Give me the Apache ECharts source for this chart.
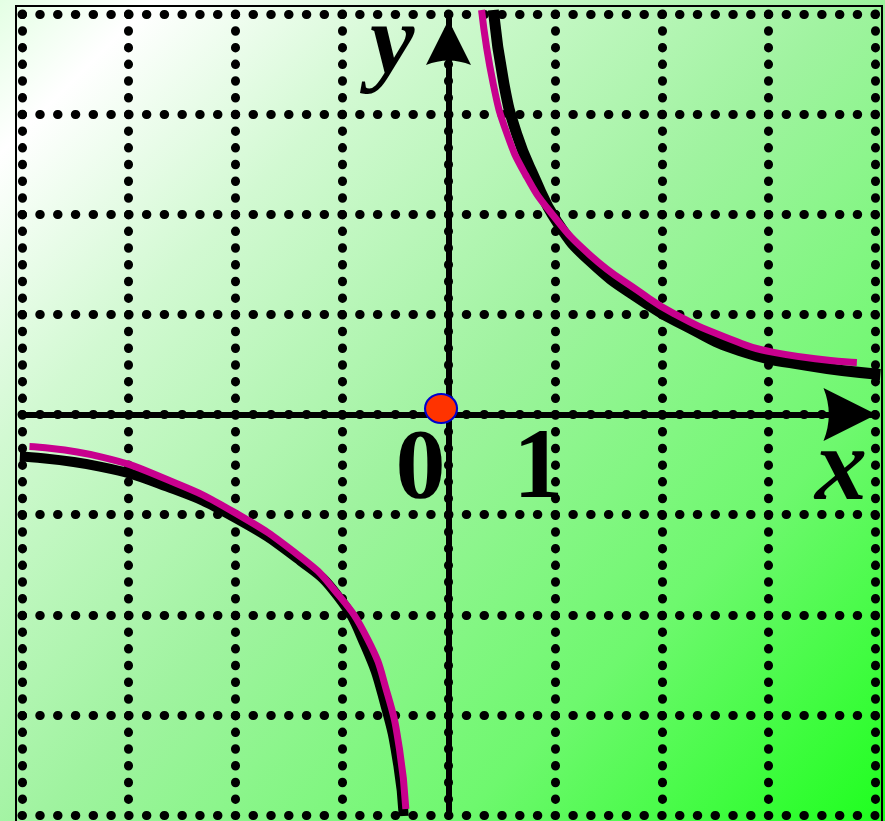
<!DOCTYPE html>
<html><head><meta charset="utf-8">
<script src="https://cdn.jsdelivr.net/npm/echarts@6/dist/echarts.min.js"></script>
<style>
html,body{margin:0;padding:0;}
#c{width:885px;height:821px;background:linear-gradient(135deg,#E4FFE4 0%,#FFFFFF 9%,#D2F9D2 26%,#A0F3A0 50%,#6EF86E 75%,#1EFF1E 100%);}
</style></head><body><div id="c"></div>
<script>
// axis ranges
const xRange = [-4, 4];
const yRange = [-4, 4];
// tick labels shown on the x axis (value -> text)
const xTickValues = [0, 1];
const xTickTexts = ['0', '1'];
const axisNames = ['x', 'y'];

// upper branch (first quadrant)
const upperMagenta = [[0.31,4.04],[0.42,3.30],[0.55,2.80],[0.72,2.40],[0.95,2.03],[1.33,1.59],[1.80,1.22],[2.11,1.01],[2.58,0.78],[3.05,0.62],[3.83,0.52]];
const upperBlack = [[0.42,4.04],[0.52,3.30],[0.64,2.80],[0.80,2.38],[1.02,1.92],[1.33,1.53],[1.80,1.15],[2.27,0.86],[2.73,0.64],[3.36,0.49],[4.05,0.40]];
// lower branch (third quadrant)
const lowerMagenta = [[-3.93,-0.32],[-3.27,-0.42],[-2.64,-0.65],[-2.02,-0.97],[-1.39,-1.42],[-1.08,-1.74],[-0.76,-2.24],[-0.57,-2.80],[-0.46,-3.34],[-0.40,-3.94]];
const lowerBlack = [[-4.02,-0.42],[-3.27,-0.52],[-2.64,-0.72],[-2.02,-1.02],[-1.39,-1.46],[-1.04,-1.81],[-0.78,-2.31],[-0.59,-2.91],[-0.47,-3.51],[-0.42,-4.01]];
// origin marker
const originPoint = [[-0.07, 0.06]];

const labelOffsets = [[-28, 57], [-17, 57]];
const arrowPath = 'path://M50,0 L100,100 Q50,80 0,100 Z';
const chart = echarts.init(document.getElementById('c'), null, {renderer:'canvas'});
chart.setOption({
  backgroundColor: 'transparent',
  animation: false,
  grid: {left:22, right:10, top:14, bottom:6, containLabel:false, outerBoundsMode:'none'},
  xAxis: {
    type:'value', min:xRange[0], max:xRange[1], interval:1,
    axisLine:{onZero:true, lineStyle:{color:'#000', width:6}, symbol:['none', arrowPath], symbolSize:[53,60], symbolOffset:[0,-25]},
    axisTick:{show:false},
    axisLabel:{show:false},
    splitLine:{show:true, lineStyle:{color:'#000', width:9, type:[0.5,16.2], cap:'round'}}
  },
  yAxis: {
    type:'value', min:yRange[0], max:yRange[1], interval:1,
    axisLine:{onZero:true, lineStyle:{color:'#000', width:6}, symbol:['none', arrowPath], symbolSize:[55,45], symbolOffset:[0,-28.5]},
    axisTick:{show:false},
    axisLabel:{show:false},
    splitLine:{show:true, lineStyle:{color:'#000', width:9, type:[0.5,17.27], cap:'round'}}
  },
  graphic: [
    {type:'rect', shape:{x:16, y:6, width:866, height:830}, style:{fill:'none', stroke:'#000', lineWidth:2}, z:-1, silent:true},
    {type:'text', x:815, y:420, style:{text:axisNames[0], font:'italic bold 104px "Liberation Serif"', fill:'#000'}, z:10},
    {type:'text', x:370, y:-3, style:{text:axisNames[1], font:'italic bold 100px "Liberation Serif"', fill:'#000'}, z:10}
  ],
  series: [
    {type:'line', data:upperBlack, smooth:0.5, showSymbol:false, clip:false, lineStyle:{color:'#000', width:11}, z:3},
    {type:'line', data:lowerBlack, smooth:0.5, showSymbol:false, clip:false, lineStyle:{color:'#000', width:10}, z:3},
    {type:'line', data:upperMagenta, smooth:0.5, showSymbol:false, clip:false, lineStyle:{color:'#C8008E', width:7}, z:4},
    {type:'line', data:lowerMagenta, smooth:0.5, showSymbol:false, clip:false, lineStyle:{color:'#C8008E', width:7}, z:4},
    {type:'scatter', data:originPoint, symbol:'circle', symbolSize:[32,29], itemStyle:{color:'#FF3300', borderColor:'#0000CC', borderWidth:2, opacity:1}, z:6},
    {type:'scatter', symbolSize:0, silent:true, z:7, itemStyle:{opacity:1},
      data: xTickValues.map((v, i) => ({value:[v, 0], name:xTickTexts[i],
        label:{show:true, position:'inside', offset:labelOffsets[i], formatter:'{b}', align:'center', verticalAlign:'middle', opacity:1,
          color:'#000', fontFamily:'"Liberation Serif", serif', fontWeight:'bold', fontSize:100, lineHeight:100}}))}
  ]
});
</script></body></html>
